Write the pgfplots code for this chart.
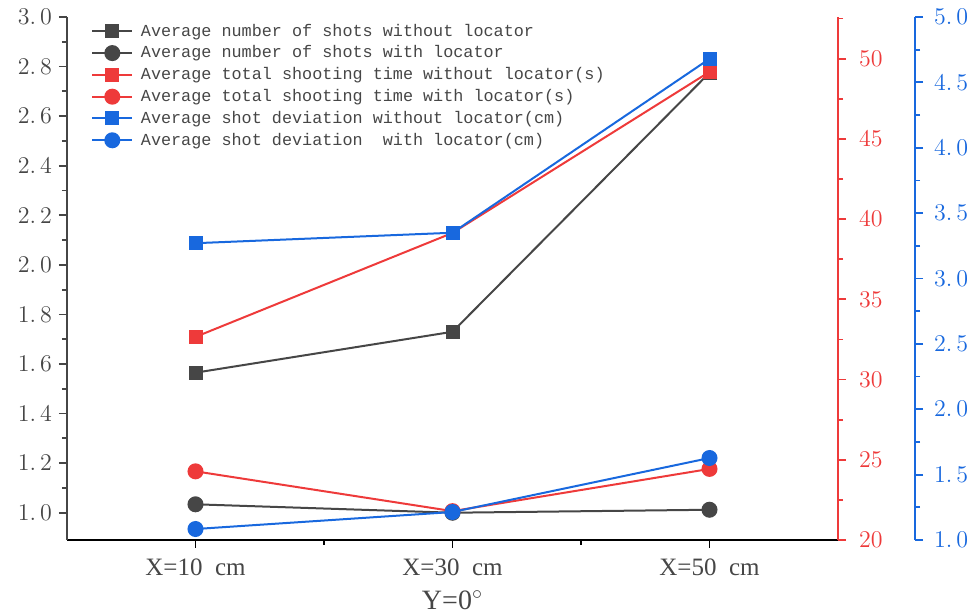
\documentclass[border=0pt]{standalone}
\usepackage{pgfplots}
\pgfplotsset{compat=1.18}
\usepackage{fontspec}
\newfontfamily\legfont{Liberation Mono}
\newfontfamily\xfont{Liberation Serif}
\definecolor{cblk}{RGB}{70,70,70}
\definecolor{cred}{RGB}{238,58,58}
\definecolor{cblu}{RGB}{24,104,222}
\pgfplotsset{
  common/.style={
    scale only axis,
    height=261.5pt,
    xmin=-0.5,
    tick align=outside,
    major tick length=4pt,
    minor tick length=2.5pt,
    clip=false,
    /pgf/number format/fixed,
    /pgf/number format/fixed zerofill,
    /pgf/number format/precision=1,
    /pgf/number format/dec sep={.\,},
  },
}
\begin{document}
\begin{tikzpicture}
\useasboundingbox (-33.5pt,-37pt) rectangle (452.5pt,270pt);
% ---------- black axis (left) ----------
\begin{axis}[common,
  width=385.5pt, xmax=2.5,
  ymin=0.89, ymax=3.0,
  axis x line*=bottom, axis y line*=left,
  x axis line style={-, black, line width=1.2pt},
  y axis line style={-, cblk, line width=1pt},
  xtick={0,1,2},
  xticklabels={X=10\ \ cm, X=30\ \ cm, X=50\ \ cm},
  minor xtick={0.5,1.5},
  xtick style={black, line width=0.9pt},
  ytick={1,1.2,1.4,1.6,1.8,2,2.2,2.4,2.6,2.8,3},
  minor ytick={1.1,1.3,1.5,1.7,1.9,2.1,2.3,2.5,2.7,2.9},
  ytick style={cblk, line width=0.9pt},
  yticklabel style={color=cblk, font=\fontsize{11.5}{12}\selectfont},
  xticklabel style={font=\xfont\fontsize{12.5}{13}\selectfont, color=cblk, yshift=-2pt},
  xlabel={Y=0$^{\circ}$},
  every axis x label/.style={at={(axis description cs:0.5,0)}, anchor=center, yshift=-30pt,
    font=\xfont\fontsize{14}{15}\selectfont, color=cblk, inner sep=0pt},
  legend style={at={(rel axis cs:0,1)}, anchor=north west, xshift=9pt, yshift=0.5pt,
    draw=none, fill=none, font=\legfont\fontsize{8.4}{10}\selectfont, text=cblk,
    nodes={inner sep=1pt, text height=6.9pt, text depth=2pt}, row sep=0pt},
  legend cell align=left,
  legend image code/.code={\draw[mark repeat=2,mark phase=2] plot coordinates {(0cm,0cm)(0.35cm,0cm)(0.7cm,0cm)};\path (0.8cm,0);},
]
\addplot[cblk, line width=1pt, mark=square*, mark size=3pt, mark options={solid, fill=cblk}]
  coordinates {(0,1.565) (1,1.73) (2,2.775)};
\addlegendentry{Average number of shots without locator}
\addplot[cblk, line width=1pt, mark=*, mark size=3.5pt, mark options={solid, fill=cblk}]
  coordinates {(0,1.034) (1,1.0) (2,1.012)};
\addlegendentry{Average number of shots with locator}
\addlegendimage{cred, line width=1pt, mark=square*, mark size=3pt, mark options={solid, fill=cred}}
\addlegendentry{Average total shooting time without locator(s)}
\addlegendimage{cred, line width=1pt, mark=*, mark size=3.5pt, mark options={solid, fill=cred}}
\addlegendentry{Average total shooting time with locator(s)}
\addlegendimage{cblu, line width=1pt, mark=square*, mark size=3pt, mark options={solid, fill=cblu}}
\addlegendentry{Average shot deviation without locator(cm)}
\addlegendimage{cblu, line width=1pt, mark=*, mark size=3.5pt, mark options={solid, fill=cblu}}
\addlegendentry{Average shot deviation\ \ with locator(cm)}
\end{axis}
% ---------- red axis (right) ----------
\begin{axis}[common,
  width=385.5pt, xmax=2.5,
  ymin=20, ymax=52.6,
  axis x line=none, axis y line*=right,
  y axis line style={-, cred, line width=1pt},
  ytick={20,25,30,35,40,45,50},
  minor ytick={22.5,27.5,32.5,37.5,42.5,47.5,52.5},
  ytick style={cred, line width=0.9pt},
  yticklabel style={color=cred, font=\fontsize{11.5}{12}\selectfont, xshift=3pt},
  /pgf/number format/precision=0,
  /pgf/number format/fixed zerofill=false,
]
\addplot[cred, line width=1pt, mark=square*, mark size=3pt, mark options={solid, fill=cred}]
  coordinates {(0,32.66) (1,39.14) (2,49.18)};
\addplot[cred, line width=1pt, mark=*, mark size=3.5pt, mark options={solid, fill=cred}]
  coordinates {(0,24.28) (1,21.8) (2,24.43)};
\end{axis}
% ---------- blue axis (far right) ----------
\begin{axis}[common,
  width=424pt, xmax=2.7996,
  ymin=1, ymax=5,
  axis x line=none, axis y line*=right,
  y axis line style={-, cblu, line width=1pt},
  ytick={1,1.5,2,2.5,3,3.5,4,4.5,5},
  minor ytick={1.25,1.75,2.25,2.75,3.25,3.75,4.25,4.75},
  ytick style={cblu, line width=0.9pt},
  yticklabel style={color=cblu, font=\fontsize{11.5}{12}\selectfont, xshift=2pt},
]
\addplot[cblu, line width=1pt, mark=square*, mark size=3pt, mark options={solid, fill=cblu}]
  coordinates {(0,3.27) (1,3.35) (2,4.68)};
\addplot[cblu, line width=1pt, mark=*, mark size=3.5pt, mark options={solid, fill=cblu}]
  coordinates {(0,1.084) (1,1.214) (2,1.627)};
\end{axis}
\end{tikzpicture}
\end{document}
